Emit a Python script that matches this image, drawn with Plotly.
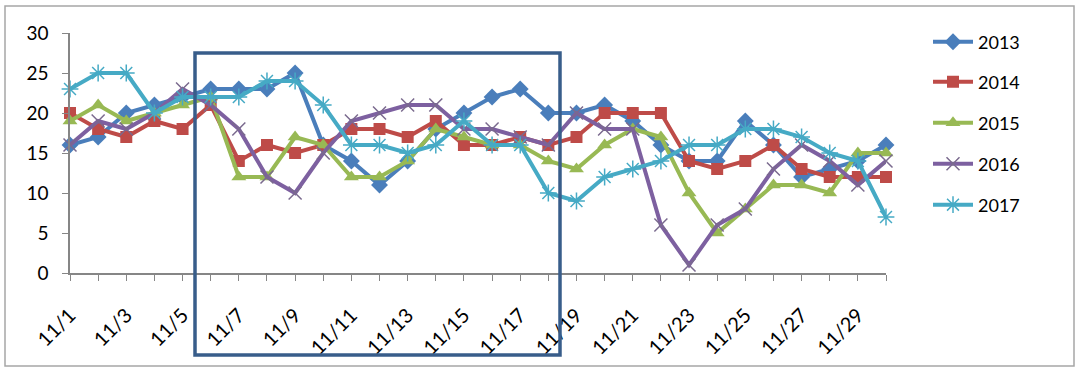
import plotly.graph_objects as go

categories = [f"11/{d}" for d in range(1, 31)]
tick_labels = categories[::2]

y2013 = [16, 17, 20, 21, 22, 23, 23, 23, 25, 16, 14, 11, 14, 18, 20, 22, 23, 20, 20, 21, 19, 16, 14, 14, 19, 16, 12, 13, 14, 16]
y2014 = [20, 18, 17, 19, 18, 21, 14, 16, 15, 16, 18, 18, 17, 19, 16, 16, 17, 16, 17, 20, 20, 20, 14, 13, 14, 16, 13, 12, 12, 12]
y2015 = [19, 21, 19, 20, 21, 22, 12, 12, 17, 16, 12, 12, 14, 18, 17, 16, 16, 14, 13, 16, 18, 17, 10, 5, 8, 11, 11, 10, 15, 15]
y2016 = [16, 19, 18, 20, 23, 21, 18, 12, 10, 15, 19, 20, 21, 21, 18, 18, 17, 16, 20, 18, 18, 6, 1, 6, 8, 13, 16, 14, 11, 14]
y2017 = [23, 25, 25, 20, 22, 22, 22, 24, 24, 21, 16, 16, 15, 16, 19, 16, 16, 10, 9, 12, 13, 14, 16, 16, 18, 18, 17, 15, 14, 7]

series = [
    ("2013", y2013, "#4a7ebb", "diamond", 13, None),
    ("2014", y2014, "#be4b48", "square", 12, None),
    ("2015", y2015, "#98b954", "triangle-up", 13, None),
    ("2016", y2016, "#7d60a0", "x-thin", 13, "#7a6a8e"),
    ("2017", y2017, "#46aac5", "asterisk", 14, "#46aac5"),
]

FONT = "Lato, 'Open Sans', sans-serif"

L, R, T, B = 70, 194, 33, 98
W, H = 1080, 371
pw, ph = W - L - R, H - T - B


def px_x(p):
    return (p - L) / pw


def px_y(p):
    return (H - B - p) / ph


legend_centers = [42, 82, 123, 164, 205]

fig = go.Figure()
legend_layouts = {}
for i, (name, vals, color, sym, size, lcol) in enumerate(series):
    marker = dict(symbol=sym, size=size, color=color)
    if lcol:
        marker["line"] = dict(color=lcol, width=1.5)
    lname = "legend" if i == 0 else f"legend{i + 1}"
    fig.add_trace(go.Scatter(
        x=categories, y=vals, name=name, mode="lines+markers",
        line=dict(color=color, width=4), marker=marker,
        cliponaxis=False, legend=lname,
    ))
    legend_layouts[lname] = dict(
        x=px_x(928), y=px_y(legend_centers[i]), xanchor="left", yanchor="middle",
        font=dict(size=18, family=FONT), bgcolor="rgba(0,0,0,0)",
        itemwidth=40, borderwidth=0,
    )

fig.update_layout(
    width=W, height=H,
    margin=dict(l=L, r=R, t=T, b=B, autoexpand=False),
    paper_bgcolor="white", plot_bgcolor="white",
    font=dict(family=FONT, size=18, color="#000000"),
    showlegend=True,
    xaxis=dict(type="category", range=[0, len(categories) - 1],
               tickmode="array", tickvals=categories,
               ticktext=[c if c in tick_labels else "" for c in categories],
               tickangle=-45, ticks="outside", ticklen=6, tickcolor="#868686",
               showline=True, linecolor="#868686", linewidth=1.5,
               showgrid=False, zeroline=False, ticklabelstandoff=15,
               automargin=False, tickfont=dict(size=20)),
    yaxis=dict(range=[0, 30], dtick=5, ticks="outside", ticklen=6,
               tickcolor="#868686", showline=True, linecolor="#868686",
               linewidth=1.5, showgrid=False, zeroline=False,
               ticklabelstandoff=10, automargin=False, tickfont=dict(size=19)),
    shapes=[
        dict(type="rect", xref="paper", yref="paper",
             x0=px_x(5), x1=px_x(1074), y0=px_y(366), y1=px_y(6),
             line=dict(color="#a6a6a6", width=1.5), layer="below"),
        dict(type="rect", xref="paper", yref="paper",
             x0=px_x(195), x1=px_x(560), y0=px_y(355), y1=px_y(53),
             line=dict(color="#385d8a", width=3.5), layer="above"),
    ],
    **legend_layouts,
)

fig.write_html(
    "out.html",
    config={"displayModeBar": False},
    post_script="document.body.style.margin='0';document.body.style.overflow='hidden';",
)
